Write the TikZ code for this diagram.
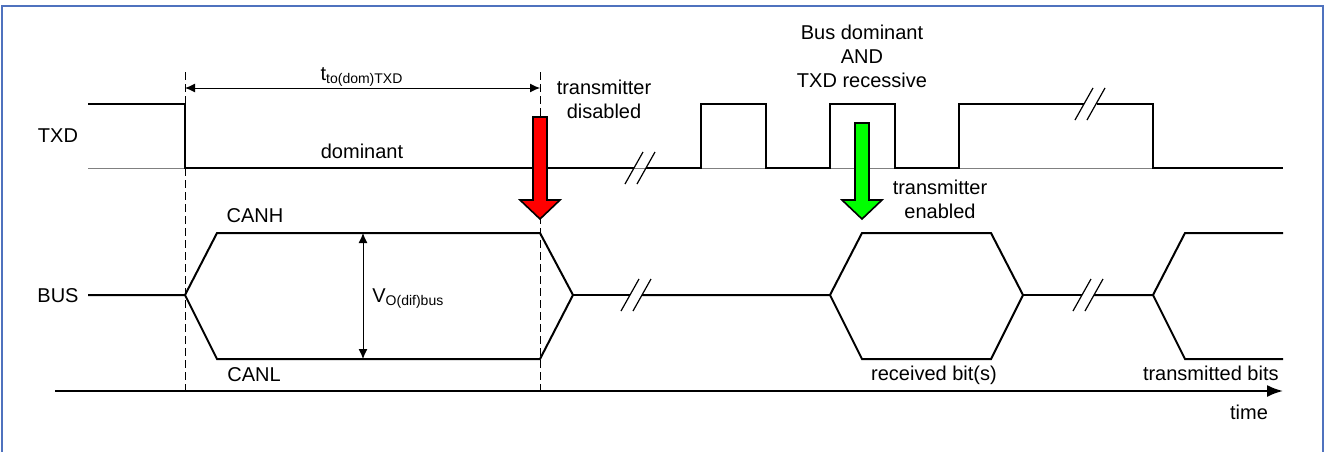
\documentclass[tikz,border=0pt]{standalone}
\usepackage{fontspec}
\setmainfont{Liberation Sans}
\usepackage{tikz}
\usetikzlibrary{
  calc,%
  positioning,%
  arrows.meta
}
\definecolor{framecol}{RGB}{79,114,190}
\tikzset{>={Latex[length=5pt, width=4.5pt]}}
\tikzset{font=\normalsize}
\tikzset{wave/.style={line width=1pt, line join=miter},
  baseline gray/.style={gray, line width=0.5pt},
  marker/.style={line width=0.5pt, dash pattern=on 4pt off 2pt},
  brk/.style={line width=0.6pt},
  lbl/.style={inner sep=0pt, align=center},
  bigarrow/.style={draw=black, line width=0.8pt, line join=miter},
  timeaxis/.style={line width=1pt, -{Latex[length=8pt, width=6pt]}}}

\begin{document}
\begin{tikzpicture}[x=0.5pt, y=-0.5pt]
      \newcommand{\wavebreak}[2]{%
        \draw[brk] (#1-15, #2+16) -- ++(18, -32); %
        \draw[brk] (#1-3, #2+16) -- ++(18, -32);}
      \useasboundingbox (0, 0) rectangle (1324, 451); %
      \draw[framecol, line width=0.6pt] (2, 460) -- (2, 6) -- (1323, 6) -- (1323, 460); %
      % reference points
      \coordinate (fall) at (185, 88); \coordinate (off) at (540, 88); %
      \coordinate (hiV) at (363, 233); \coordinate (loV) at (363, 359); %
      \coordinate (tStart) at (55, 391); \coordinate (tEnd) at (1283, 391); %
      \coordinate (offTop) at (540, 117); \coordinate (onTop) at (862, 123); %
      % TXD
      \draw[baseline gray] (88, 168) -- (1283, 168); %
      \draw[wave] (88, 104) -- (185, 104) -- (185, 168) -- (634, 168); %
      \draw[wave] (646, 168) -- (701, 168) -- (701, 104) -- (766, 104) -- (766, 168)
        -- (830, 168) -- (830, 104) -- (895, 104) -- (895, 168) -- (959, 168)
        -- (959, 104) -- (1084, 104); %
      \draw[wave] (1097, 104) -- (1153, 104) -- (1153, 168) -- (1283, 168); %
      \wavebreak{640}{168} \wavebreak{1090}{104}
      % BUS
      \draw[wave] (88, 295) -- (185, 295) -- (217, 233) -- (540, 233) -- (573, 295)
        -- (540, 359) -- (217, 359) -- (185, 295); %
      \draw[wave] (573, 295) -- (630, 295); %
      \draw[wave] (642, 295) -- (830, 295) -- (862, 233) -- (991, 233) -- (1023, 295)
        -- (991, 359) -- (862, 359) -- (830, 295); %
      \draw[wave] (1023, 295) -- (1082, 295); %
      \draw[wave] (1094, 295) -- (1153, 295) -- (1185, 233) -- (1283, 233); %
      \draw[wave] (1153, 295) -- (1185, 359) -- (1283, 359); %
      \wavebreak{636}{295} \wavebreak{1088}{295}
      % time axis and markers
      \draw[timeaxis] (tStart) -- (tEnd); %
      \draw[marker] (fall |- 0, 72) -- (fall |- tStart); %
      \draw[marker] (off |- 0, 72) -- (off |- tStart); %
      \draw[<->, line width=0.5pt] (fall) -- (off); %
      \draw[<->, line width=0.5pt] (hiV) -- (loV); %
      % transmitter off / on
      \draw[bigarrow, fill=red] (offTop) ++(-7, 0) -- ++(14, 0) -- ++(0, 83) -- ++(13, 0)
        -- ++(-20, 19) -- ++(-20, -19) -- ++(13, 0) -- cycle; %
      \draw[bigarrow, fill=green] (onTop) ++(-7, 0) -- ++(14, 0) -- ++(0, 77) -- ++(13, 0)
        -- ++(-20, 19) -- ++(-20, -19) -- ++(13, 0) -- cycle; %
      % labels
      \node[lbl, anchor=base] (txdName) at (58, 142) {TXD}; %
      \node[lbl, anchor=base] (busName) at (58, 302) {BUS}; %
      \node[lbl, anchor=base] (domLbl) at (362, 158) {dominant}; %
      \node[lbl, anchor=base] (toLbl) at (362, 80) {t\textsubscript{to(dom)TXD}}; %
      \node[lbl, anchor=base] (canhLbl) at (255, 222) {CANH}; %
      \node[lbl, anchor=base] (canlLbl) at (254, 381) {CANL}; %
      \node[lbl, anchor=base west] (vLbl) at (372, 302) {V\textsubscript{O(dif)bus}}; %
      \node[lbl, anchor=base] (offLbl) at (604, 118) {transmitter\\disabled}; %
      \node[lbl, anchor=base] (condLbl) at (862, 87) {Bus dominant\\AND\\TXD recessive}; %
      \node[lbl, anchor=base] (onLbl) at (940, 218) {transmitter\\enabled}; %
      \node[lbl, anchor=base] (rxLbl) at (934, 380) {received bit(s)}; %
      \node[lbl, anchor=base east] (txLbl) at (1279, 380) {transmitted bits}; %
      \node[lbl, anchor=base] (timeLbl) at (1249, 419) {time}; %
    \end{tikzpicture}
\end{document}
